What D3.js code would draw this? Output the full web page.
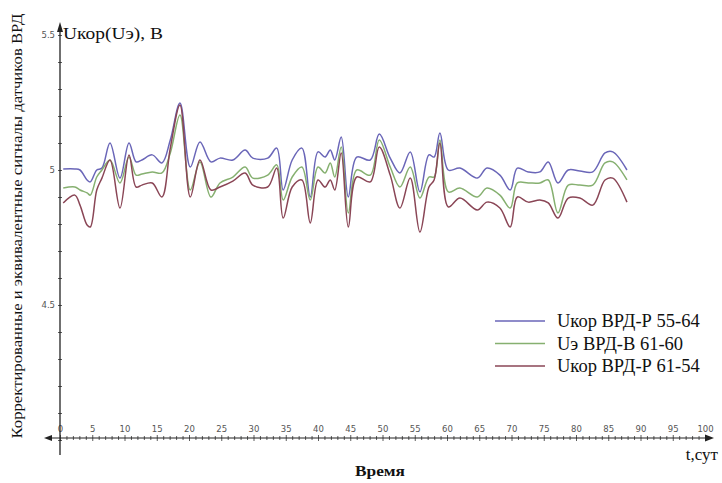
<!DOCTYPE html>
<html>
<head>
<meta charset="utf-8">
<script src="https://cdn.jsdelivr.net/npm/d3@7"></script>
<style>
  html, body { margin: 0; padding: 0; background: #fff; }
  svg { display: block; }
  .tick text { font-family: "DejaVu Sans", sans-serif; font-size: 8.5px; fill: #555; }
</style>
</head>
<body>
<svg id="chart" width="722" height="483"></svg>
<script>
// Sample times, days
const days = [0.5, 2.3, 3.1, 4.2, 4.7, 5.7, 6.5, 7.75, 9.3, 10.7, 11.8, 12.7, 14.3, 15.8, 17.1, 18.6,
  20.2, 21.7, 23.4, 24.8, 26.8, 28.7, 29.9, 32.2, 33.6, 34.6, 36.0, 37.5, 38.8, 40.0, 41.1, 41.9,
  42.6, 43.6, 44.7, 46.0, 48.1, 49.5, 51.2, 52.7, 54.3, 55.8, 57.2, 58.0, 58.9, 60.2, 62.0, 64.7,
  66.2, 68.2, 69.8, 70.9, 72.6, 74.4, 75.7, 77.2, 78.8, 80.6, 82.6, 84.5, 85.7, 87.9];

// Ukor VRD-R 55-64, V
const ukor5564 = [5.004, 5.004, 5.000, 4.963, 4.956, 5.000, 5.007, 5.100, 4.970, 5.100, 5.030, 5.037, 5.056, 5.026, 5.111, 5.248,
  5.011, 5.104, 5.030, 5.044, 5.037, 5.074, 5.044, 5.044, 5.081, 4.926, 5.037, 5.081, 4.900, 5.067, 5.048, 5.074,
  5.037, 5.122, 4.900, 5.048, 5.037, 5.133, 5.044, 4.989, 5.067, 4.919, 5.056, 5.048, 5.137, 5.000, 5.007, 4.970,
  5.007, 4.981, 4.926, 5.007, 4.993, 4.993, 5.030, 4.952, 5.000, 4.996, 4.993, 5.063, 5.067, 5.000];

// Ue VRD-V 61-60, V
const ue6160 = [4.933, 4.937, 4.926, 4.915, 4.907, 4.974, 5.000, 5.037, 4.952, 5.048, 4.981, 4.985, 4.993, 4.989, 5.063, 5.204,
  4.926, 5.030, 4.900, 4.952, 4.974, 5.011, 4.970, 4.981, 5.019, 4.889, 4.974, 5.011, 4.889, 5.011, 4.989, 5.026,
  4.974, 5.085, 4.841, 5.000, 4.981, 5.111, 5.011, 4.937, 5.011, 4.896, 4.974, 4.974, 5.111, 4.919, 4.933, 4.900,
  4.933, 4.907, 4.859, 4.952, 4.952, 4.952, 4.963, 4.841, 4.944, 4.944, 4.944, 5.026, 5.030, 4.963];

// Ukor VRD-R 61-54, V
const ukor6154 = [4.878, 4.907, 4.870, 4.796, 4.789, 4.926, 4.970, 5.037, 4.859, 5.056, 4.937, 4.944, 4.952, 4.900, 5.081, 5.241,
  4.900, 5.037, 4.926, 4.937, 4.959, 4.989, 4.944, 4.937, 5.007, 4.822, 4.937, 4.963, 4.804, 4.963, 4.937, 4.963,
  4.926, 5.063, 4.789, 4.974, 4.956, 5.085, 4.981, 4.859, 4.970, 4.770, 4.937, 4.963, 5.100, 4.863, 4.896, 4.852,
  4.881, 4.859, 4.789, 4.900, 4.881, 4.889, 4.878, 4.822, 4.896, 4.896, 4.870, 4.963, 4.970, 4.881];

const seriesNames = ["Uкор ВРД-Р 55-64", "Uэ ВРД-В 61-60", "Uкор ВРД-Р 61-54"];
const seriesColors = ["#6a66b8", "#86b070", "#8a4656"];
const xTickLabels = d3.range(0, 101, 5);
const yTickLabels = [4.5, 5, 5.5];

const SERIF = "\"Liberation Serif\"";

const svg = d3.select("#chart");
const x = d3.scaleLinear().domain([0, 100]).range([60, 705]);
const y = d3.scaleLinear().domain([4, 5.5]).range([440, 35]);
const x0 = x(0), yBase = 438;

// Data lines
const line = d3.line().x(d => x(d[0])).y(d => y(d[1])).curve(d3.curveCatmullRom.alpha(0.5));
[ukor5564, ue6160, ukor6154].forEach((vals, i) => {
  svg.append("path")
    .datum(days.map((d, k) => [d, vals[k]]))
    .attr("fill", "none")
    .attr("stroke", seriesColors[i])
    .attr("stroke-width", 1.5)
    .attr("stroke-linejoin", "round")
    .attr("d", line);
});

// X axis (labels above the line, ticks every day)
const xAxis = svg.append("g").attr("transform", `translate(0,${yBase})`)
  .call(d3.axisTop(x).tickValues(d3.range(0, 101, 1)).tickSize(2).tickPadding(4)
    .tickFormat(d => (xTickLabels.includes(d) ? d : "")));
xAxis.select(".domain").remove();
xAxis.selectAll(".tick line").attr("y1", d => (d % 5 === 0 ? 3 : 2)).attr("y2", d => (d % 5 === 0 ? -3 : -2))
  .attr("stroke", "#333").attr("stroke-width", 0.8);
svg.append("line").attr("x1", 47).attr("x2", 706).attr("y1", yBase).attr("y2", yBase)
  .attr("stroke", "#222").attr("stroke-width", 1.2);
svg.append("path").attr("d", `M714,${yBase} L705,${yBase - 3.5} L705,${yBase + 3.5} Z`).attr("fill", "#222");
svg.append("path").attr("d", `M44,${yBase} L52,${yBase - 3} L52,${yBase + 3} Z`).attr("fill", "#222");

// Y axis
const yAxis = svg.append("g").attr("transform", `translate(${x0},0)`)
  .call(d3.axisLeft(y).tickValues(d3.range(40, 56, 1).map(v => v / 10)).tickSize(2).tickPadding(3)
    .tickFormat(d => (yTickLabels.some(t => Math.abs(t - d) < 1e-9) ? String(d) : "")));
yAxis.select(".domain").remove();
yAxis.selectAll(".tick line").attr("x1", -2).attr("x2", 2).attr("stroke", "#333").attr("stroke-width", 0.8);
svg.append("line").attr("x1", x0).attr("x2", x0).attr("y1", 30).attr("y2", 455)
  .attr("stroke", "#222").attr("stroke-width", 1.3);
svg.append("path").attr("d", `M${x0},22 L${x0 - 3},32 L${x0 + 3},32 Z`).attr("fill", "#222");

// Axis titles
function serifText(sel, size) {
  return sel.style("font-family", SERIF).attr("font-size", size).attr("fill", "#111");
}
serifText(svg.append("text"), 17.5).attr("x", 63).attr("y", 39)
  .attr("textLength", 100).attr("lengthAdjust", "spacingAndGlyphs").text("Uкор(Uэ), В");
serifText(svg.append("text"), 17).attr("x", 718).attr("y", 460).attr("text-anchor", "end").text("t,сут");
serifText(svg.append("text"), 15.5).attr("x", 355).attr("y", 476).attr("font-weight", "bold")
  .attr("textLength", 50).attr("lengthAdjust", "spacingAndGlyphs").text("Время");
serifText(svg.append("text"), 15.5)
  .attr("transform", "translate(22,226) rotate(-90)").attr("text-anchor", "middle")
  .attr("textLength", 425).attr("lengthAdjust", "spacingAndGlyphs")
  .text("Корректированные и эквивалентные сигналы датчиков ВРД");

// Legend
const legend = svg.append("g").attr("transform", "translate(495,321)");
seriesNames.forEach((name, i) => {
  legend.append("line").attr("x1", 0).attr("x2", 50).attr("y1", i * 22.5).attr("y2", i * 22.5)
    .attr("stroke", seriesColors[i]).attr("stroke-width", 1.4);
  serifText(legend.append("text"), 18.5).attr("x", 62).attr("y", i * 22.5 + 6).text(name);
});
</script>
</body>
</html>
